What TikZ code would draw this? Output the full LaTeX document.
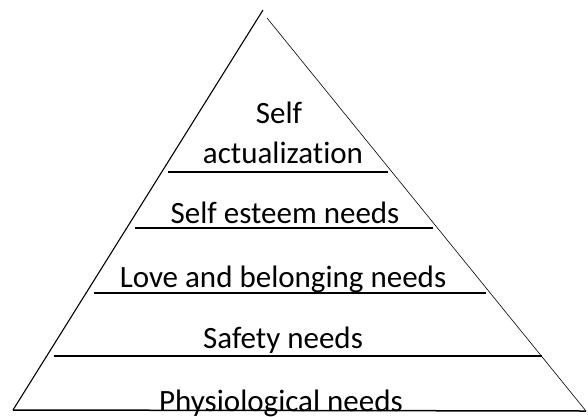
\documentclass[tikz,border=0pt]{standalone}
\usepackage{fontspec}
\setmainfont{Carlito}[Ligatures=NoCommon]
\begin{document}
\begin{tikzpicture}[
    x=1pt, y=-1pt,
    level/.style={font=\fontsize{31}{37}\selectfont, anchor=base, inner sep=0pt},
    divider/.style={line width=1.5pt}
]

\useasboundingbox (0,0) rectangle (588,416);

% Costats

\coordinate (apexl) at (263,10);
\coordinate (apexr) at (267,18);
\coordinate (basel) at (13,410);
\coordinate (baser) at (586,411);

\draw[
    line width=1.1pt
] (apexl) -- (basel);

\draw[
    line width=0.6pt
] (apexr) -- (baser);


% Base

\draw[
    divider
] (basel) -- (baser);


% Separadors

\draw[divider] (168,172) -- (388,172);
\draw[divider] (135,228) -- (433,228);
\draw[divider] (94,293) -- (486,293);
\draw[
    line width=2pt
] (54,356) -- (542,356);


% Nivells

\node[level] (selfa) at (279,123) {Self};
\node[level] (actual) at (283,163) {actualization};
\node[level] (esteem) at (285,223) {Self esteem needs};
\node[level] (love) at (283,287) {Love and belonging needs};
\node[level] (safety) at (283,348) {Safety needs};
\node[level] (physio) at (281,411) {Physiological needs};

\end{tikzpicture}
\end{document}
